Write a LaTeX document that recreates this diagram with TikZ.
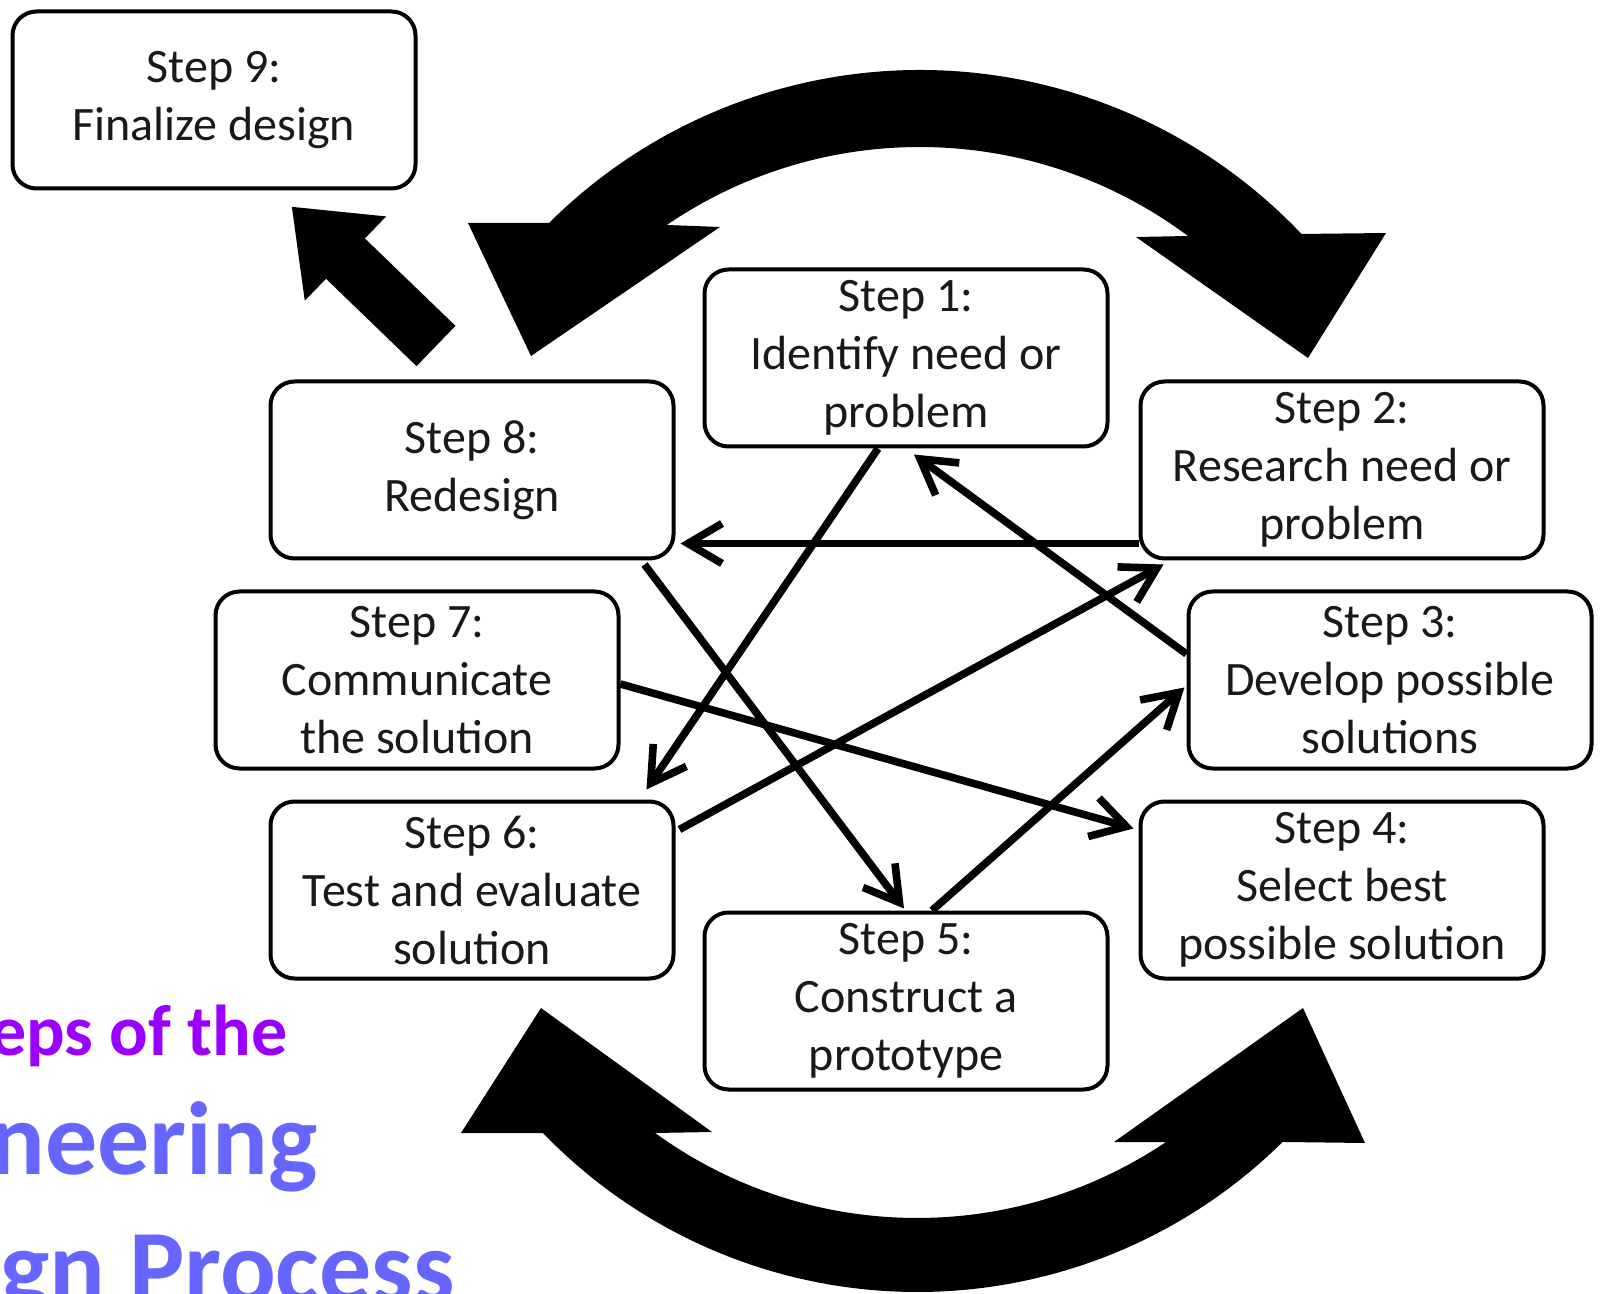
\documentclass[tikz,border=0pt]{standalone}
\usepackage{fontspec}
\setmainfont{Carlito}
\usepackage{tikz}
\usetikzlibrary{arrows.meta}
\definecolor{titlepurple}{HTML}{9900FF}
\definecolor{titleblue}{HTML}{6666FF}
\tikzstyle{stepbox} = [rectangle, rounded corners=12pt, minimum width=201.5pt, minimum height=88.5pt, text centered, align=center, line width=2pt, draw=black, fill=white, text=black!90, font=\fontsize{24}{29}\selectfont]
\tikzstyle{arrow} = [line width=3.8pt, -{Straight Barb[length=17pt, width=20pt]}]
\tikzstyle{bigarrow} = [line width=28pt, -{Triangle[length=37.5pt, width=56pt]}]
\tikzstyle{loopband} = [fill=black]
\tikzstyle{heading} = [anchor=base west, inner sep=0pt]

\begin{document}
\begin{tikzpicture}[x=0.5pt, y=-0.5pt, node distance=105pt]
\useasboundingbox (0,0) rectangle (1602,1294);

\fill [loopband] (531,356) -- (468,223) -- (549,223) arc[start angle=225.16, end angle=316.51, radius=526] -- (1386,233) -- (1308,358) -- (1136,237) -- (1188,236) arc[start angle=306.7, end angle=235.72, radius=449] -- (720,227) -- cycle;

\fill [loopband] (541,1008) -- (461,1133) -- (543,1133) arc[start angle=136.03, end angle=45.36, radius=520] -- (1365,1143) -- (1303,1008) -- (1114,1142) -- (1166,1142) arc[start angle=56.06, end angle=125.96, radius=446] -- (712,1132) -- cycle;

\node (s9) [stepbox] at (214,100) {Step 9:\\Finalize design};

\node (s8) [stepbox] at (472,470) {Step 8:\\Redesign};

\node (s7) [stepbox, below of=s8, xshift=-27.5pt] {Step 7:\\Communicate\\the solution};

\node (s6) [stepbox, below of=s7, xshift=27.5pt] {Step 6:\\Test and evaluate\\solution};

\node (s2) [stepbox, right of=s8, xshift=330pt] {Step 2:\\Research need or\\problem};

\node (s3) [stepbox, below of=s2, xshift=24pt] {Step 3:\\Develop possible\\solutions};

\node (s4) [stepbox, below of=s3, xshift=-24pt] {Step 4:\\Select best\\possible solution};

\node (s1) [stepbox, right of=s8, xshift=112pt, yshift=56pt] {Step 1:\\Identify need or\\problem};

\node (s5) [stepbox, right of=s6, xshift=112pt, yshift=-55.5pt] {Step 5:\\Construct a\\prototype};

\draw [arrow] ([xshift=-14pt]s1.south) -- ([xshift=-14.5pt, yshift=5pt]s6.north east);

\draw [arrow] ([yshift=13pt]s3.west) -- ([xshift=4pt, yshift=-3pt]s1.south);

\draw [arrow] ([yshift=8.5pt]s2.south west) -- ([xshift=2.5pt, yshift=8.5pt]s8.south east);

\draw [arrow] ([xshift=-15.5pt, yshift=-2pt]s8.south east) -- ([xshift=-1pt, yshift=1pt]s5.north);

\draw [arrow] ([yshift=-2pt]s7.east) -- ([xshift=-2.5pt, yshift=-14.5pt]s4.north west);

\draw [arrow] ([xshift=2pt, yshift=-15pt]s6.north east) -- ([xshift=12.5pt, yshift=-2pt]s2.south west);

\draw [arrow] ([xshift=13pt]s5.north) -- ([xshift=-1pt, yshift=-3.75pt]s3.west);

\draw [bigarrow] ([xshift=-18pt, yshift=16.75pt]s8.north) -- ([xshift=38.75pt, yshift=-8pt]s9.south);

\node (t1) [heading, text=titlepurple, font=\fontsize{36}{43}\selectfont\bfseries] at (-10,1055) {eps of the};

\node (t2) [heading, text=titleblue, font=\fontsize{52}{62}\selectfont\bfseries] at (-11,1174) {neering};

\node (t3) [heading, text=titleblue, font=\fontsize{52}{62}\selectfont\bfseries] at (0,1302) {gn Process};

\end{tikzpicture}
\end{document}
